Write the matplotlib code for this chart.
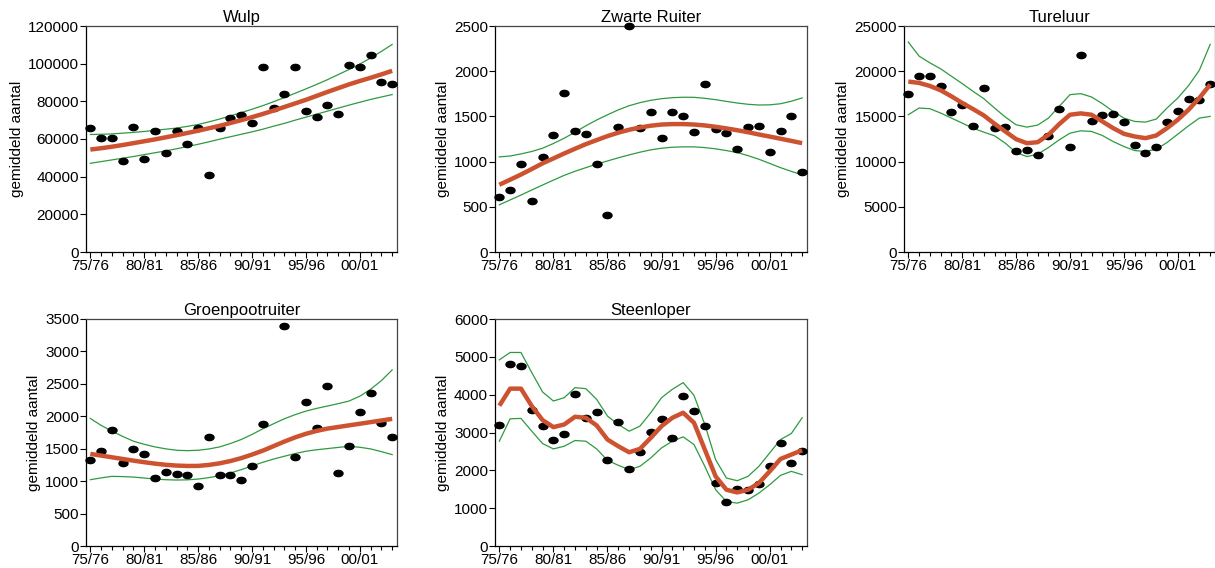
import numpy as np
import matplotlib
matplotlib.use("Agg")
import matplotlib.pyplot as plt
from matplotlib.path import Path
from matplotlib.transforms import Affine2D

plt.rcParams['font.family'] = ['Liberation Sans', 'DejaVu Sans']

seasons = ["75/76", "80/81", "85/86", "90/91", "95/96", "00/01"]
n_seasons = 29
nan = np.nan

# ---- Wulp ----
wulp_obs = [66100, 60400, 60300, 48500, 66500, 49400, 64500, 52800, 64500, 57200,
            65600, 41100, 66000, 70900, 72500, 68600, 98100, 76600, 84100, 98100,
            74800, 71600, 77900, 73100, 99400, 98100, 104400, 90300, 89400]
wulp_trend = [54400, 55100, 55900, 56800, 57800, 58800, 59800, 60900, 62000, 63200,
              64400, 65700, 67000, 68500, 70000, 71600, 73300, 75100, 77000, 78900,
              80800, 82900, 85000, 87000, 89000, 90800, 92500, 94300, 96200]
wulp_upper = [62400, 62500, 62700, 63100, 63500, 64000, 64600, 65200, 65800, 66700,
              67700, 69100, 70600, 72300, 74000, 75800, 77700, 79800, 82000, 84300,
              86600, 89000, 91500, 94200, 96900, 99800, 103000, 106500, 110200]
wulp_lower = [47100, 48000, 48900, 49800, 50700, 51700, 52700, 53700, 54800, 56000,
              57200, 58500, 59900, 61200, 62500, 63800, 65200, 66800, 68300, 70000,
              71600, 73200, 74800, 76400, 78000, 79500, 81000, 82300, 83600]

# ---- Zwarte Ruiter ----
zr_obs = [604, 689, 978, 559, 1048, 1296, 1763, 1333, 1307, 978,
          407, 1381, 2500, 1374, 1552, 1263, 1552, 1500, 1322, 1855,
          1359, 1319, 1144, 1381, 1396, 1111, 1344, 1507, 889]
zr_trend = [744, 800, 857, 918, 981, 1035, 1090, 1142, 1193, 1238,
            1282, 1320, 1352, 1377, 1397, 1410, 1415, 1415, 1410, 1400,
            1385, 1367, 1347, 1325, 1300, 1277, 1253, 1229, 1204]
zr_upper = [1052, 1062, 1085, 1112, 1148, 1200, 1259, 1325, 1396, 1460,
            1518, 1572, 1618, 1652, 1678, 1696, 1707, 1712, 1711, 1700,
            1685, 1666, 1648, 1634, 1626, 1628, 1640, 1668, 1704]
zr_lower = [522, 576, 630, 686, 741, 795, 848, 893, 933, 972,
            1007, 1042, 1074, 1104, 1130, 1148, 1159, 1163, 1163, 1155,
            1141, 1122, 1100, 1066, 1026, 980, 933, 892, 852]

# ---- Tureluur ----
tur_obs = [17481, 19444, 19444, 18407, 15444, 16259, 13889, 18148, 13704, 13815,
           11185, 11259, 10741, 12778, 15852, 11593, 21778, 14481, 15148, 15222,
           14333, 11852, 10963, 11630, 14407, 15556, 16889, 16852, 18630]
tur_trend = [18852, 18704, 18370, 17889, 17222, 16481, 15815, 15111, 14185, 13333,
             12481, 12037, 12148, 12963, 14148, 15185, 15333, 15185, 14444, 13704,
             13074, 12778, 12593, 12889, 13704, 14630, 15741, 17037, 18519]
tur_upper = [23222, 21667, 20926, 20259, 19444, 18630, 17778, 16963, 15926, 14926,
             14074, 13815, 14037, 14815, 16111, 17407, 17519, 17148, 16407, 15556,
             14815, 14444, 14370, 14704, 15926, 17037, 18407, 20111, 22963]
tur_lower = [15185, 15926, 15852, 15370, 14815, 14259, 13704, 13259, 12852, 12037,
             11000, 10556, 10815, 11556, 12407, 13148, 13407, 13333, 12889, 12222,
             11667, 11222, 11111, 11370, 12111, 13037, 13963, 14815, 15000]

# ---- Groenpootruiter ----
gp_obs = [1322, 1471, 1791, 1285, 1497, 1420, 1048, 1136, 1115, 1094,
          929, 1683, 1094, 1100, 1022, 1239, 1874, nan, 3387, 1373,
          2215, 1817, 2468, 1120, 1538, 2065, 2359, 1889, 1678]
gp_trend = [1420, 1394, 1368, 1342, 1316, 1292, 1270, 1252, 1240, 1234,
            1235, 1250, 1275, 1310, 1355, 1410, 1470, 1540, 1610, 1675,
            1730, 1775, 1810, 1835, 1860, 1885, 1910, 1935, 1960]
gp_upper = [1967, 1860, 1771, 1690, 1616, 1568, 1528, 1498, 1476, 1470,
            1476, 1496, 1528, 1580, 1642, 1720, 1807, 1885, 1962, 2025,
            2080, 2122, 2158, 2195, 2235, 2310, 2416, 2550, 2715]
gp_lower = [1022, 1050, 1074, 1070, 1063, 1048, 1032, 1022, 1017, 1020,
            1032, 1054, 1084, 1126, 1177, 1234, 1291, 1340, 1384, 1425,
            1461, 1484, 1502, 1520, 1538, 1522, 1497, 1455, 1409]

# ---- Steenloper ----
st_obs = [3204, 4805, 4752, 3602, 3159, 2814, 2973, 4027, 3381, 3549,
          2283, 3265, 2044, 2487, 3018, 3363, 2867, 3956, 3575, 3168,
          1673, 1159, 1504, 1487, 1646, 2124, 2717, 2195, 2513]
st_trend = [3708, 4159, 4159, 3699, 3327, 3142, 3212, 3416, 3389, 3186,
            2814, 2637, 2478, 2566, 2858, 3168, 3389, 3522, 3257, 2549,
            1841, 1487, 1416, 1487, 1664, 1973, 2301, 2416, 2531]
st_upper = [4920, 5115, 5115, 4584, 4071, 3832, 3920, 4186, 4159, 3876,
            3434, 3212, 3035, 3168, 3522, 3920, 4142, 4319, 3982, 3212,
            2283, 1796, 1726, 1841, 2106, 2460, 2814, 2973, 3389]
st_lower = [2770, 3363, 3372, 3035, 2708, 2566, 2637, 2788, 2770, 2566,
            2265, 2133, 2018, 2106, 2327, 2593, 2770, 2885, 2681, 2106,
            1487, 1177, 1133, 1221, 1398, 1619, 1867, 1973, 1885]

panels = [
    ("Wulp", wulp_obs, wulp_trend, wulp_upper, wulp_lower, 120000, 20000),
    ("Zwarte Ruiter", zr_obs, zr_trend, zr_upper, zr_lower, 2500, 500),
    ("Tureluur", tur_obs, tur_trend, tur_upper, tur_lower, 25000, 5000),
    ("Groenpootruiter", gp_obs, gp_trend, gp_upper, gp_lower, 3500, 500),
    ("Steenloper", st_obs, st_trend, st_upper, st_lower, 6000, 1000),
]

W, H = 1215, 568
positions = [(86, 26, 311, 226), (495, 26, 312, 226), (904, 26, 311, 226),
             (86, 319, 311, 227), (495, 319, 312, 227)]

fig = plt.figure(figsize=(W / 100, H / 100), dpi=100)

ellipse = Path.unit_circle().transformed(Affine2D().scale(1.45, 1.0))

red = "#CC5230"
green = "#2E9A40"

x = np.arange(n_seasons)
for (title, obs, trend, up, lo, ymax, ystep), (l, t, w, h) in zip(panels, positions):
    ax = fig.add_axes([l / W, 1 - (t + h) / H, w / W, h / H])
    ax.plot(x, up, color=green, lw=0.9, zorder=2)
    ax.plot(x, lo, color=green, lw=0.9, zorder=2)
    ax.plot(x, obs, linestyle='none', marker=ellipse, markersize=6.5,
            color='black', zorder=3, clip_on=False)
    ax.plot(x, trend, color=red, lw=3.2, zorder=4, solid_capstyle='butt')
    ax.set_xlim(-0.4, 28.45)
    ax.set_ylim(0, ymax)
    ax.set_yticks(np.arange(0, ymax + 1, ystep))
    ax.set_xticks(np.arange(0, 26, 5))
    ax.set_xticklabels(seasons)
    ax.set_xticks(x, minor=True)
    ax.tick_params(axis='both', which='major', direction='out', length=4,
                   width=0.8, labelsize=11, pad=1)
    ax.tick_params(axis='x', which='minor', direction='out', length=3, width=0.8)
    ax.set_title(title, fontsize=12, pad=3)
    ax.set_ylabel("gemiddeld aantal", fontsize=11, labelpad=3)
    for s in ['top', 'right']:
        ax.spines[s].set_color('#444444')
    for s in ax.spines.values():
        s.set_linewidth(0.9)

fig.savefig("out.png", dpi=100)
